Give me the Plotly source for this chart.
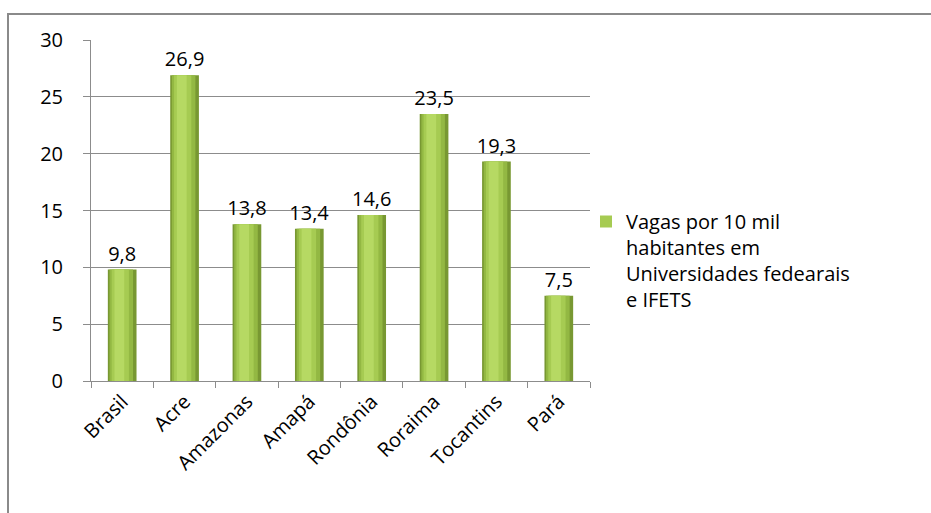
import plotly.graph_objects as go

categories = ["Brasil", "Acre", "Amazonas", "Amapá", "Rondônia", "Roraima", "Tocantins", "Pará"]
values = [9.8, 26.9, 13.8, 13.4, 14.6, 23.5, 19.3, 7.5]
series_name = "Vagas por 10 mil<br>habitantes em<br>Universidades fedearais<br>e IFETS"
y_ticks = [0, 5, 10, 15, 20, 25, 30]

FONT = "Open Sans, sans-serif"
FS = 20
W = 0.46
fig = go.Figure()

# layered bars to imitate the shaded (gradient) bar look
layers = [
    # (width, shift, color)
    (W, 0.0, "#789832"),
    (W * 0.82, -0.015, "#93b843"),
    (W * 0.60, -0.03, "#a6cb52"),
    (W * 0.34, -0.045, "#b6d963"),
]
for i, (w, shift, col) in enumerate(layers):
    fig.add_trace(go.Bar(
        x=categories, y=values,
        width=w, offset=-w / 2 + shift,
        marker=dict(color=col, line=dict(width=0)),
        showlegend=(i == 2),
        name=series_name,
        text=values if i == 0 else None,
        texttemplate="%{y:.1f}" if i == 0 else None,
        textposition="outside" if i == 0 else "none",
        constraintext="none",
        textfont=dict(size=FS, color="black", family=FONT),
        cliponaxis=False,
        hoverinfo="skip" if i else "x+y",
    ))

L, R, T, B = 91, 590, 40, 381
PW, PH = R - L, B - T

def px(x):
    return (x - L) / PW

def py(y):
    return (B - y) / PH

fig.update_layout(
    width=931, height=513,
    margin=dict(l=L, r=931 - R, t=T, b=513 - B),
    paper_bgcolor="white", plot_bgcolor="white",
    barmode="overlay",
    separators=",.",
    uniformtext=dict(mode=False),
    font=dict(family=FONT, size=FS, color="black"),
    xaxis=dict(
        type="category", tickangle=-45, tickson="boundaries",
        ticks="outside", ticklen=6, tickcolor="#8c8c8c",
        showline=True, linecolor="#8c8c8c", linewidth=1,
        showgrid=False, tickfont=dict(size=FS, color="black", family=FONT),
    ),
    yaxis=dict(
        range=[0, 30], tickvals=y_ticks,
        ticks="outside", ticklen=7, tickcolor="#8c8c8c",
        ticklabelstandoff=16,
        showline=True, linecolor="#8c8c8c", linewidth=1,
        showgrid=True, gridcolor="#8c8c8c", gridwidth=1,
        zeroline=False,
        tickfont=dict(size=FS, color="black", family=FONT),
    ),
    legend=dict(
        x=px(586), y=py(202), xanchor="left", yanchor="top",
        valign="top", font=dict(size=FS, family=FONT, color="black"),
        bgcolor="rgba(0,0,0,0)", itemwidth=30,
    ),
    shapes=[dict(
        type="rect", xref="paper", yref="paper",
        x0=px(8), x1=px(940), y0=py(525), y1=py(14),
        line=dict(color="#8a8a8a", width=2), fillcolor="rgba(0,0,0,0)",
        layer="below",
    )],
)

fig.write_html("out.html")
